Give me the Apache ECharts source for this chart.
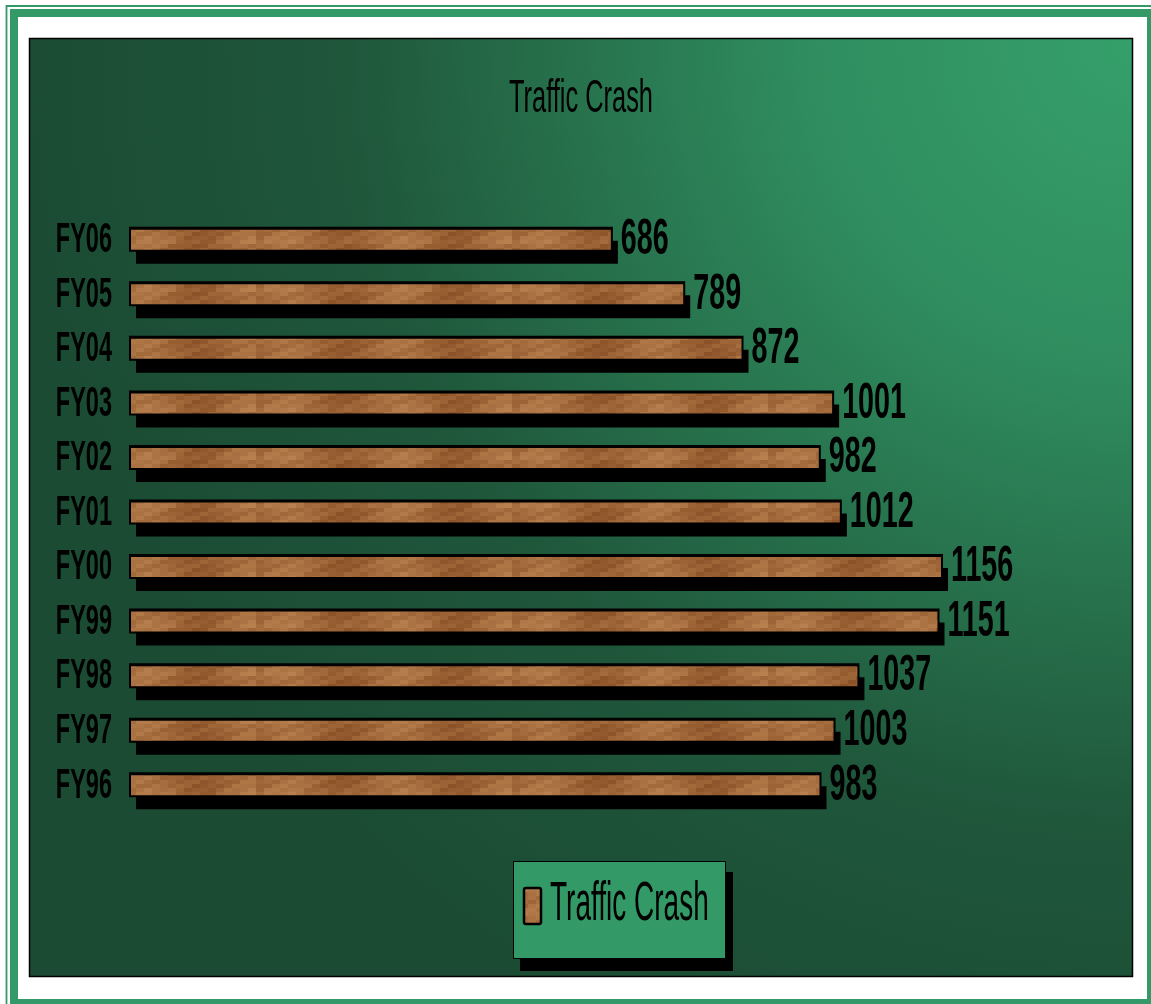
<!DOCTYPE html>
<html>
<head>
<meta charset="utf-8">
<style>
  html, body { margin: 0; padding: 0; background: #ffffff; }
  #chart { width: 1151px; height: 1004px; }
</style>
<script src="https://cdn.jsdelivr.net/npm/echarts@6/dist/echarts.min.js"></script>
</head>
<body>
<div id="chart"></div>
<script>
// ---- data ----
const chartTitle = 'Traffic Crash';
const seriesName = 'Traffic Crash';
const categories = ['FY96', 'FY97', 'FY98', 'FY99', 'FY00', 'FY01', 'FY02', 'FY03', 'FY04', 'FY05', 'FY06'];
const crashes = [983, 1003, 1037, 1151, 1156, 1012, 982, 1001, 872, 789, 686];
const axisMin = 0;
const axisMax = 1400;

const FONT = 'Liberation Sans Narrow, Arial Narrow, sans-serif';

// ---- wood-like texture (style only, deterministic) ----
function makeWood() {
  const c = document.createElement('canvas');
  c.width = 256; c.height = 24;
  const g = c.getContext('2d');
  const dark = [128, 70, 30], light = [184, 128, 78];
  for (let bx = 0; bx < 32; bx++) {
    for (let by = 0; by < 6; by++) {
      let t = 0.55 + 0.22 * Math.sin(bx * 0.45) + 0.12 * Math.sin(bx * 1.9 + by * 2.3) + 0.08 * Math.sin(by * 1.3 + bx * 0.7);
      if (by === 0) t += 0.12;
      if (by === 5) t += 0.06;
      t = Math.max(0, Math.min(1, t));
      const col = dark.map((d, k) => Math.round(d + (light[k] - d) * t));
      g.fillStyle = 'rgb(' + col.join(',') + ')';
      g.fillRect(bx * 8, by * 4, 8, 4);
    }
  }
  return c;
}
const wood = { image: makeWood(), repeat: 'repeat' };

const BAR_H = 23;

const chart = echarts.init(document.getElementById('chart'), null, { renderer: 'canvas' });

const option = {
  backgroundColor: '#ffffff',
  animation: false,
  graphic: [
    // outer thin frame line
    { type: 'rect', z: -100, silent: true,
      shape: { x: 6.5, y: 6, width: 1160, height: 1010 },
      style: { fill: null, stroke: '#339966', lineWidth: 1.8 } },
    // outer thick frame band
    { type: 'rect', z: -100, silent: true,
      shape: { x: 14, y: 13, width: 1137, height: 990 },
      style: { fill: null, stroke: '#339966', lineWidth: 8 } },
    // plot area background
    { type: 'rect', z: -90, silent: true,
      shape: { x: 29.5, y: 38.5, width: 1103, height: 938 },
      style: {
        fill: { type: 'radial', x: 1133, y: 38, r: 1120, global: true,
          colorStops: [
            { offset: 0, color: '#35a06b' },
            { offset: 0.3, color: '#2f8c5e' },
            { offset: 0.7, color: '#1f573b' },
            { offset: 1, color: '#1b4b33' }
          ] },
        stroke: '#000', lineWidth: 1.5
      } },
    // title
    { type: 'text', z: 100, silent: true,
      x: 581, y: 99, scaleY: 1.81,
      style: { text: chartTitle, fill: '#000', fontSize: 25.4, fontFamily: FONT,
        align: 'center', verticalAlign: 'middle' } },
    // legend box (shadow, box, swatch, text)
    { type: 'group', z: 100, silent: true, children: [
      { type: 'rect', shape: { x: 520, y: 872, width: 213, height: 99 }, style: { fill: '#000' } },
      { type: 'rect', shape: { x: 513.5, y: 861.5, width: 212, height: 97 },
        style: { fill: '#339966', stroke: '#000', lineWidth: 1 } },
      { type: 'rect', shape: { x: 524, y: 888, width: 17, height: 36, r: 2 },
        style: { fill: wood, stroke: '#000', lineWidth: 2.5 } },
      { type: 'text', x: 550, y: 905, scaleY: 2.0,
        style: { text: seriesName, fill: '#000', fontSize: 28, fontFamily: FONT, align: 'left', verticalAlign: 'middle' } }
    ] }
  ],
  grid: { left: 130, right: 37.6, top: 212, bottom: 192 },
  xAxis: {
    type: 'value', min: axisMin, max: axisMax, show: false,
    splitLine: { show: false }
  },
  yAxis: {
    type: 'category', data: categories,
    axisLine: { show: false }, axisTick: { show: false },
    axisLabel: { show: false }, splitLine: { show: false }
  },
  series: [
    {
      name: seriesName,
      type: 'custom',
      silent: true, clip: false, z: 5,
      itemStyle: { color: wood },
      data: crashes.map((v, i) => [v, i]),
      encode: { x: 0, y: 1 },
      renderItem: function (params, api) {
        const p0 = api.coord([axisMin, api.value(1)]);
        const p1 = api.coord([api.value(0), api.value(1)]);
        const w = p1[0] - p0[0];
        const top = p1[1] - BAR_H / 2;
        return {
          type: 'group',
          children: [
            { type: 'rect', shape: { x: p0[0] + 6, y: top + 13, width: w, height: BAR_H },
              style: { fill: '#000' } },
            { type: 'rect', shape: { x: p0[0], y: top, width: w, height: BAR_H },
              style: { fill: wood, stroke: '#000', lineWidth: 2 } },
            { type: 'line', shape: { x1: p0[0], y1: top + 1, x2: p0[0] + w, y2: top + 1 },
              style: { stroke: '#000', lineWidth: 2 } }
          ]
        };
      }
    },
    {
      name: 'valueLabels',
      type: 'custom',
      silent: true, clip: false, z: 10,
      data: crashes.map((v, i) => [v, i]),
      encode: { x: 0, y: 1 },
      renderItem: function (params, api) {
        const pt = api.coord([api.value(0), api.value(1)]);
        return {
          type: 'text', x: pt[0] + 9, y: pt[1] + 1, scaleY: 1.75,
          style: { text: String(crashes[params.dataIndex]), fill: '#000', fontSize: 28.7, fontWeight: 'bold',
            fontFamily: FONT, align: 'left', verticalAlign: 'middle' }
        };
      }
    },
    {
      name: 'categoryLabels',
      type: 'custom',
      silent: true, clip: false, z: 10,
      data: categories.map((c, i) => [axisMin, i]),
      encode: { x: 0, y: 1 },
      renderItem: function (params, api) {
        const pt = api.coord([api.value(0), api.value(1)]);
        return {
          type: 'text', x: pt[0] - 18, y: pt[1] + 1, scaleY: 1.82,
          style: { text: categories[params.dataIndex], fill: '#000', fontSize: 23.5, fontWeight: 'bold',
            fontFamily: FONT, align: 'right', verticalAlign: 'middle' }
        };
      }
    }
  ]
};
chart.setOption(option);
</script>
</body>
</html>
